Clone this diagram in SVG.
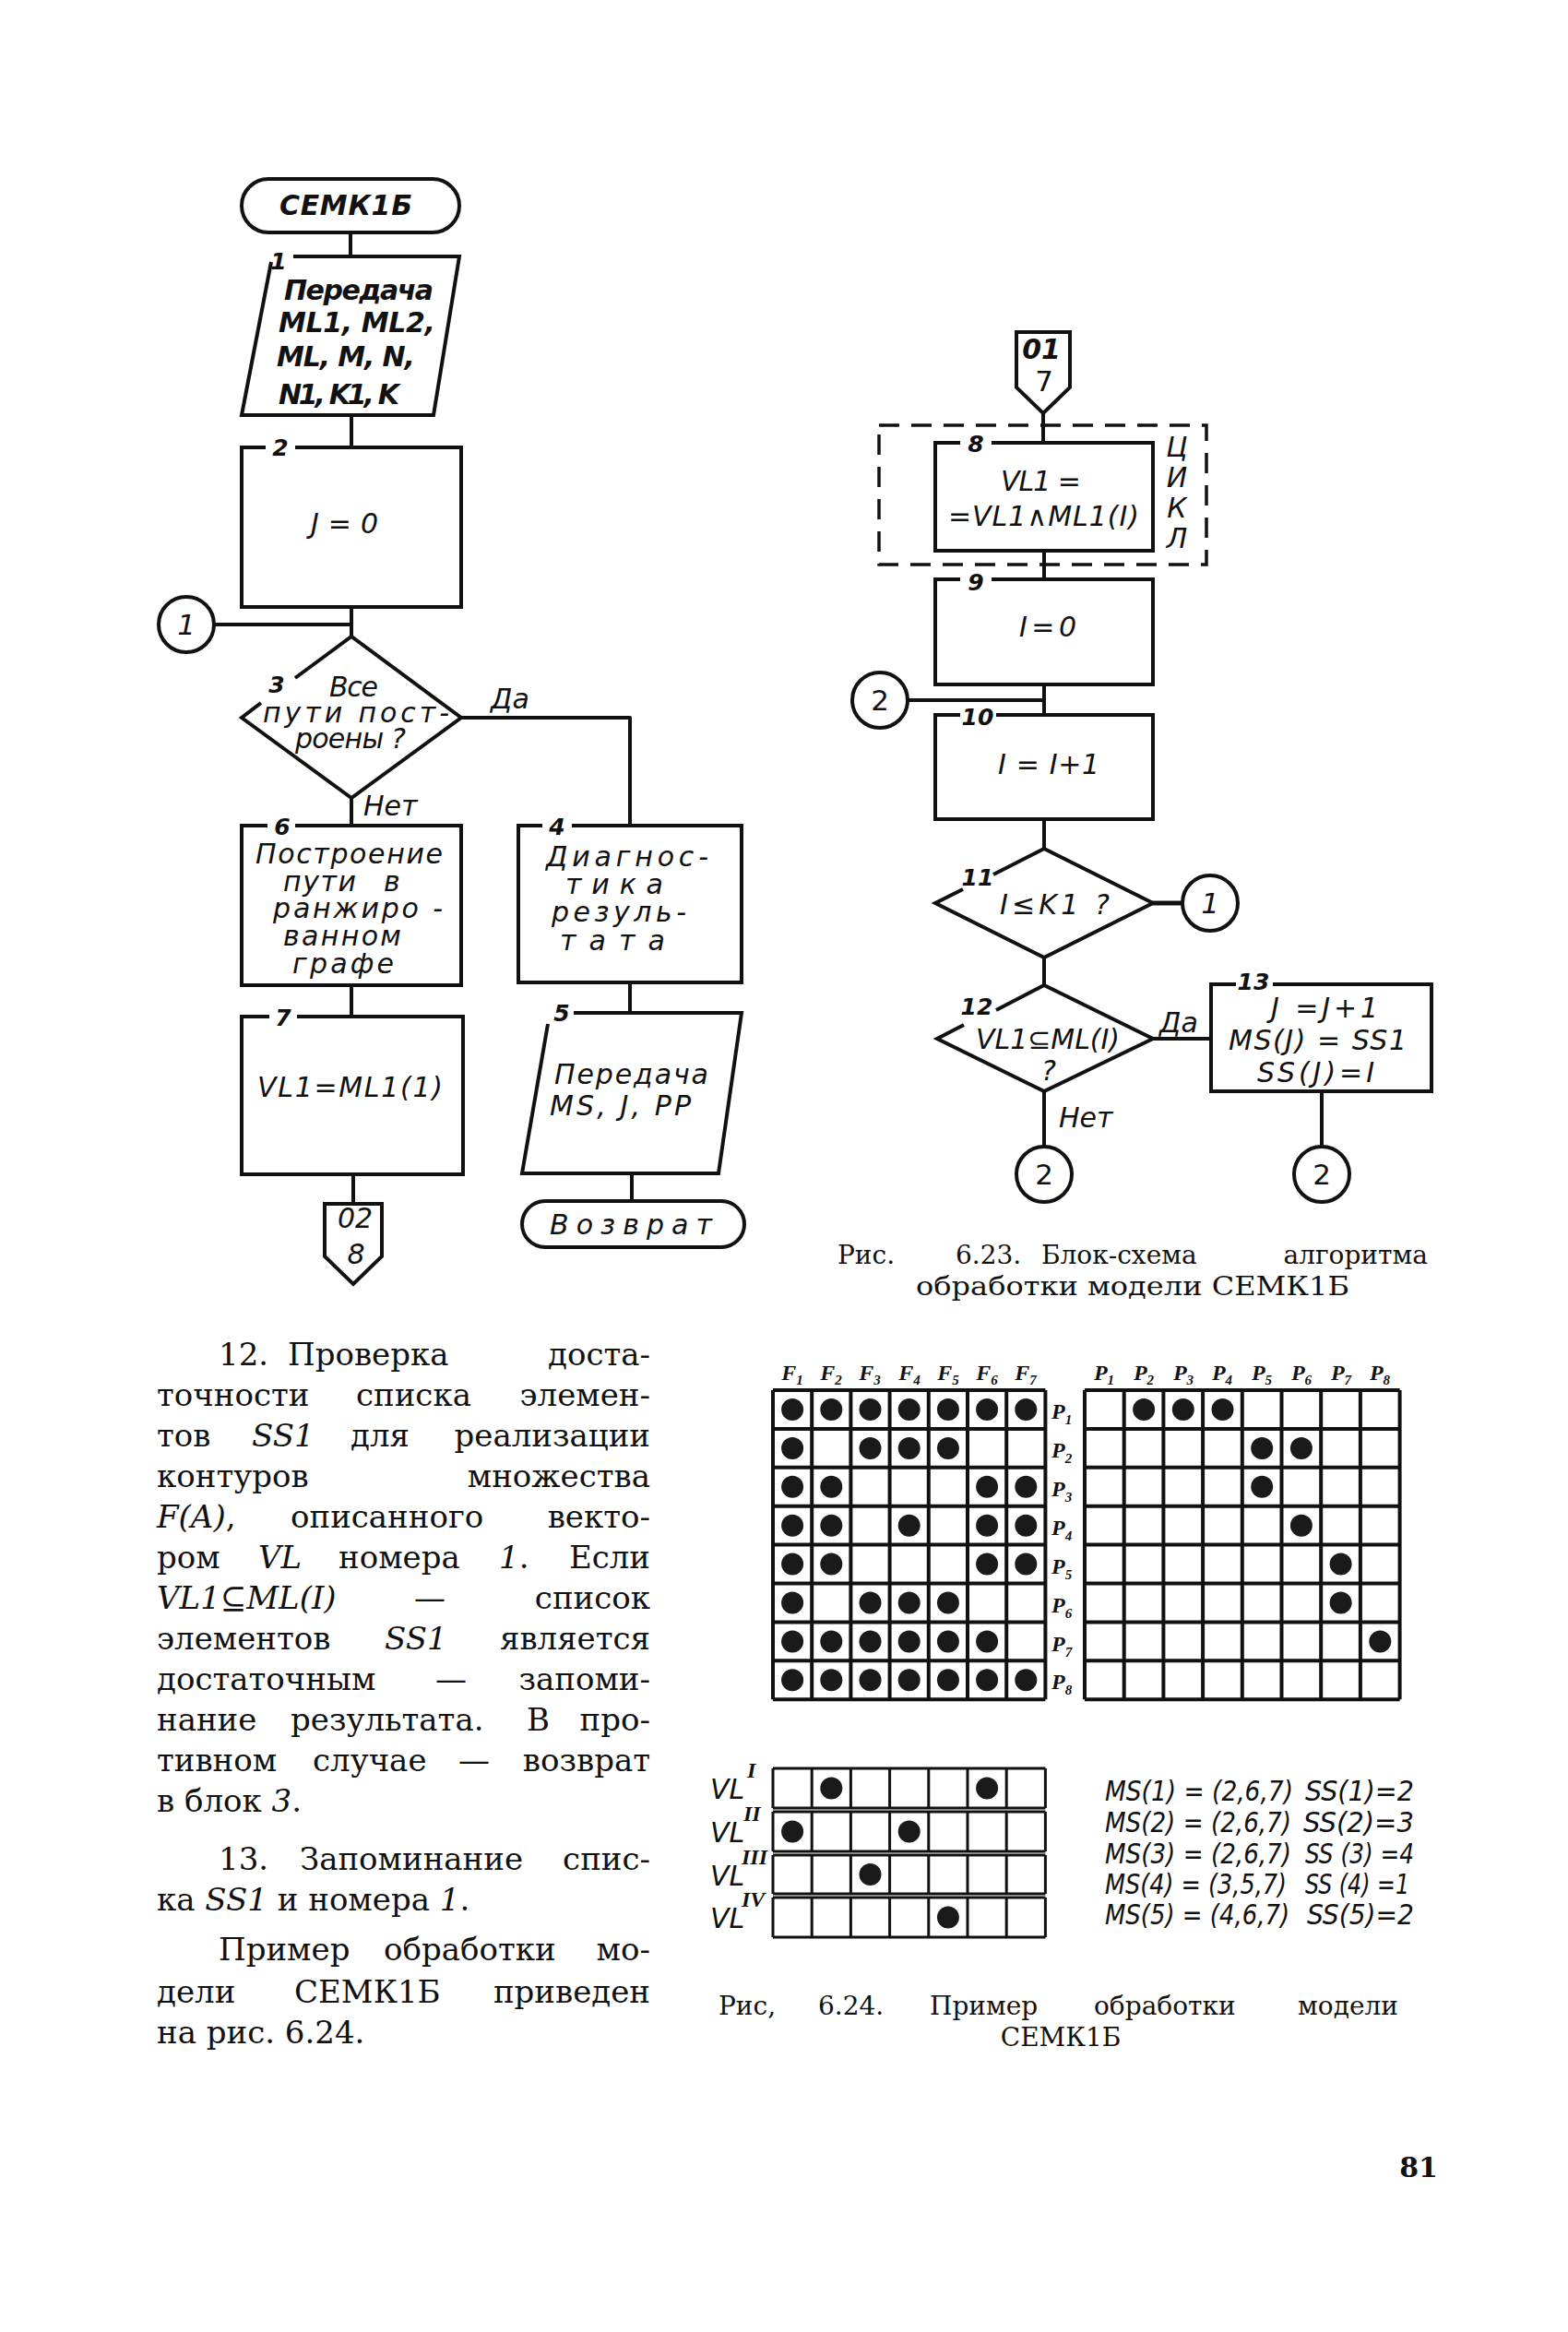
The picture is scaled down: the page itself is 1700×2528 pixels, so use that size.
<svg xmlns="http://www.w3.org/2000/svg" width="1700" height="2528" viewBox="0 0 1700 2528">
<defs>
<style>
.ln{fill:none;stroke:#111;stroke-width:4;stroke-linejoin:round;stroke-linecap:round}
.bx{fill:#fff;stroke:#111;stroke-width:4;stroke-linejoin:miter}
.dash{fill:none;stroke:#111;stroke-width:3.5;stroke-dasharray:22 13}
.hw{font-family:"DejaVu Sans","Liberation Sans",sans-serif;font-style:italic;fill:#111;font-size:30px}
.hb{font-weight:bold}
.lbl{font-family:"DejaVu Sans","Liberation Sans",sans-serif;font-style:italic;font-weight:bold;font-size:25px;fill:#111;text-anchor:middle}
.cn{font-family:"DejaVu Sans","Liberation Sans",sans-serif;font-size:31px;fill:#111;text-anchor:middle}
.body{font-family:"DejaVu Serif","Liberation Serif",serif;font-size:34px;fill:#111}
.cap{font-family:"DejaVu Serif","Liberation Serif",serif;font-size:28px;fill:#111}
.it{font-style:italic}
.grid{fill:none;stroke:#111;stroke-width:4}
.gridt{fill:none;stroke:#111;stroke-width:3}
.gl{font-family:"Liberation Serif","DejaVu Serif",serif;font-style:italic;font-weight:bold;font-size:24px;fill:#111}
.mid{text-anchor:middle}
.end{text-anchor:end}
</style>
<circle id="dot" r="12" fill="#1a1a1a"/>
</defs>
<rect width="1700" height="2528" fill="#fff"/>

<!-- ===== connectors ===== -->
<g id="connectors" class="ln">
<path d="M380,252V278"/>
<path d="M381,450V485"/>
<path d="M381,658V690"/>
<path d="M232,677H381"/>
<path d="M500,778H683V895"/>
<path d="M381,865V895"/>
<path d="M381,1068V1102"/>
<path d="M383,1273V1305"/>
<path d="M683,1065V1098"/>
<path d="M685,1272V1302"/>
<path d="M1131,448V480"/>
<path d="M1132,597V628"/>
<path d="M1132,742V775"/>
<path d="M984,759H1132"/>
<path d="M1132,888V920"/>
<path d="M1250,979H1282" style="stroke-width:5"/>
<path d="M1132,1038V1068"/>
<path d="M1250,1126H1313"/>
<path d="M1132,1183V1243"/>
<path d="M1433,1183V1243"/>
</g>

<!-- ===== left flowchart ===== -->
<g id="n-start">
<rect class="bx" x="262" y="194" width="236" height="58" rx="29"/>
<text class="hw hb" x="303" y="233" textLength="144" lengthAdjust="spacing">СЕМК1Б</text>
</g>
<g id="n1">
<path class="bx" d="M318,278H498L470,450H262L294,284"/>
<text class="lbl" x="302" y="292">1</text>
<text class="hw hb" x="308" y="325" font-size="29" textLength="162" lengthAdjust="spacing">Передача</text>
<text class="hw hb" x="302" y="360" font-size="29" textLength="170" lengthAdjust="spacing">ML1, ML2,</text>
<text class="hw hb" x="300" y="397" font-size="29" textLength="150" lengthAdjust="spacing">ML, M, N,</text>
<text class="hw hb" x="302" y="438" font-size="29" textLength="131" lengthAdjust="spacing">N1, K1, K</text>
</g>
<g id="n2">
<path class="bx" d="M320,485H500V658H262V485H288"/>
<text class="lbl" x="304" y="494">2</text>
<text class="hw" x="337" y="578" textLength="73" lengthAdjust="spacing">J = 0</text>
</g>
<g id="c1-left">
<circle class="bx" cx="202" cy="677" r="30"/>
<text class="cn it" x="202" y="688">1</text>
</g>
<g id="n3">
<path class="bx" d="M320,735L381,690L500,778L381,865L262,778L283,762"/>
<text class="lbl" x="300" y="751">3</text>
<text class="hw" x="357" y="755" font-size="23" textLength="53" lengthAdjust="spacing">Все</text>
<text class="hw" x="285" y="783" font-size="23" textLength="202" lengthAdjust="spacing">пути пост-</text>
<text class="hw" x="320" y="811" font-size="23" textLength="120" lengthAdjust="spacing">роены ?</text>
<text class="hw" x="532" y="768" font-size="28">Да</text>
<text class="hw" x="394" y="884" font-size="28">Нет</text>
</g>
<g id="n6">
<path class="bx" d="M320,895H500V1068H262V895H290"/>
<text class="lbl" x="306" y="905">6</text>
<text class="hw" x="277" y="936" font-size="25" textLength="203" lengthAdjust="spacing">Построение</text>
<text class="hw" x="307" y="966" font-size="25" textLength="79" lengthAdjust="spacing">пути</text>
<text class="hw" x="416" y="966" font-size="25">в</text>
<text class="hw" x="296" y="995" font-size="25" textLength="184" lengthAdjust="spacing">ранжиро -</text>
<text class="hw" x="307" y="1025" font-size="25" textLength="128" lengthAdjust="spacing">ванном</text>
<text class="hw" x="317" y="1055" font-size="25" textLength="110" lengthAdjust="spacing">графе</text>
</g>
<g id="n4">
<path class="bx" d="M620,895H804V1065H562V895H588"/>
<text class="lbl" x="604" y="905">4</text>
<text class="hw" x="592" y="939" font-size="26" textLength="176" lengthAdjust="spacing">Диагнос-</text>
<text class="hw" x="613" y="969" font-size="26" textLength="106" lengthAdjust="spacing">тика</text>
<text class="hw" x="598" y="999" font-size="26" textLength="146" lengthAdjust="spacing">резуль-</text>
<text class="hw" x="607" y="1030" font-size="26" textLength="114" lengthAdjust="spacing">тата</text>
</g>
<g id="n7">
<path class="bx" d="M322,1102H502V1273H262V1102H292"/>
<text class="lbl" x="307" y="1112">7</text>
<text class="hw" x="279" y="1189" textLength="201" lengthAdjust="spacing">VL1=ML1(1)</text>
</g>
<g id="off-02-8">
<path class="bx" d="M352,1305H414V1362L383,1392L352,1362Z"/>
<text class="hw mid" x="385" y="1331" font-size="23">02</text>
<text class="hw mid" x="386" y="1370" font-size="26">8</text>
</g>
<g id="n5">
<path class="bx" d="M622,1098H804L779,1272H566L594,1110"/>
<text class="lbl" x="609" y="1107">5</text>
<text class="hw" x="601" y="1175" font-size="28" textLength="167" lengthAdjust="spacing">Передача</text>
<text class="hw" x="596" y="1209" font-size="28" textLength="153" lengthAdjust="spacing">MS, J, PP</text>
</g>
<g id="n-return">
<rect class="bx" x="566" y="1302" width="241" height="50" rx="25"/>
<text class="hw" x="596" y="1338" textLength="176" lengthAdjust="spacing">Возврат</text>
</g>

<!-- ===== right flowchart ===== -->
<g id="off-01-7">
<path class="bx" d="M1102,360H1160V420L1131,448L1102,420Z"/>
<text class="hw hb mid" x="1129" y="389" font-size="24">01</text>
<text class="cn" x="1132" y="424" font-size="27">7</text>
</g>
<g id="loop">
<rect class="dash" x="953" y="461" width="355" height="151"/>
<text class="hw mid" x="1276" y="495" font-size="27">Ц</text>
<text class="hw mid" x="1276" y="528" font-size="27">И</text>
<text class="hw mid" x="1276" y="561" font-size="27">К</text>
<text class="hw mid" x="1276" y="594" font-size="27">Л</text>
</g>
<g id="n8">
<path class="bx" d="M1075,480H1250V597H1014V480H1041"/>
<text class="lbl" x="1058" y="490">8</text>
<text class="hw" x="1085" y="532" textLength="87" lengthAdjust="spacing">VL1 =</text>
<text class="hw" x="1028" y="570" textLength="207" lengthAdjust="spacing">=VL1∧ML1(I)</text>
</g>
<g id="n9">
<path class="bx" d="M1075,628H1250V742H1014V628H1041"/>
<text class="lbl" x="1058" y="640">9</text>
<text class="hw" x="1105" y="690" textLength="62" lengthAdjust="spacing">I = 0</text>
</g>
<g id="c2-left">
<circle class="bx" cx="954" cy="759" r="30"/>
<text class="cn" x="954" y="770">2</text>
</g>
<g id="n10">
<path class="bx" d="M1080,775H1250V888H1014V775H1041"/>
<text class="lbl" x="1060" y="786">10</text>
<text class="hw" x="1082" y="839" textLength="110" lengthAdjust="spacing">I = I+1</text>
</g>
<g id="n11">
<path class="bx" d="M1077,948L1132,920L1250,979L1132,1038L1014,979L1044,964"/>
<text class="lbl" x="1060" y="960">11</text>
<text class="hw" x="1084" y="991" textLength="119" lengthAdjust="spacing">I≤K1 ?</text>
</g>
<g id="c1-right">
<circle class="bx" cx="1312" cy="979" r="30"/>
<text class="cn it" x="1312" y="990">1</text>
</g>
<g id="n12">
<path class="bx" d="M1080,1095L1132,1068L1250,1126L1132,1183L1016,1126L1045,1111"/>
<text class="lbl" x="1059" y="1100">12</text>
<text class="hw" x="1058" y="1137" font-size="27" textLength="156" lengthAdjust="spacing">VL1⊆ML(I)</text>
<text class="hw mid" x="1137" y="1171" font-size="27">?</text>
<text class="hw" x="1257" y="1119" font-size="28">Да</text>
<text class="hw" x="1148" y="1222" font-size="28">Нет</text>
</g>
<g id="n13">
<path class="bx" d="M1380,1067H1552V1183H1313V1067H1340"/>
<text class="lbl" x="1359" y="1073">13</text>
<text class="hw" x="1378" y="1103" font-size="28" textLength="116" lengthAdjust="spacing">J =J+1</text>
<text class="hw" x="1332" y="1138" font-size="28" textLength="193" lengthAdjust="spacing">MS(J) = SS1</text>
<text class="hw" x="1363" y="1173" font-size="28" textLength="127" lengthAdjust="spacing">SS(J)=I</text>
</g>
<g id="c2-bottom">
<circle class="bx" cx="1132" cy="1273" r="30"/>
<text class="cn" x="1132" y="1284">2</text>
</g>
<g id="c2-bottom-right">
<circle class="bx" cx="1433" cy="1273" r="30"/>
<text class="cn" x="1433" y="1284">2</text>
</g>

<!-- ===== captions ===== -->
<g id="caption-6-23" class="cap">
<text y="1370"><tspan x="908">Рис.</tspan><tspan x="1036">6.23.</tspan><tspan x="1129">Блок-схема</tspan></text>
<text class="end" x="1548" y="1370">алгоритма</text>
<text class="mid" x="1228" y="1404" textLength="470" lengthAdjust="spacingAndGlyphs">обработки модели СЕМК1Б</text>
</g>

<!-- ===== body text ===== -->
<g id="body-text" class="body">
<text y="1480"><tspan x="237">12.</tspan><tspan x="312">Проверка</tspan></text>
<text class="end" x="705" y="1480">доста-</text>
<text y="1524"><tspan x="170">точности</tspan><tspan x="386">списка</tspan></text>
<text class="end" x="705" y="1524">элемен-</text>
<text y="1568"><tspan x="170">тов</tspan><tspan x="273" class="it">SS1</tspan><tspan x="380">для</tspan></text>
<text class="end" x="705" y="1568">реализации</text>
<text x="170" y="1612">контуров</text>
<text class="end" x="705" y="1612">множества</text>
<text y="1656"><tspan x="170" class="it">F(A)</tspan><tspan>,</tspan><tspan x="315">описанного</tspan></text>
<text class="end" x="705" y="1656">векто-</text>
<text y="1700"><tspan x="170">ром</tspan><tspan x="280" class="it">VL</tspan><tspan x="367">номера</tspan><tspan x="541" class="it">1</tspan><tspan>.</tspan></text>
<text class="end" x="705" y="1700">Если</text>
<text y="1744"><tspan x="170" class="it">VL1⊆ML(I)</tspan><tspan x="449">—</tspan></text>
<text class="end" x="705" y="1744">список</text>
<text y="1788"><tspan x="170">элементов</tspan><tspan x="417" class="it">SS1</tspan></text>
<text class="end" x="705" y="1788">является</text>
<text y="1832"><tspan x="170">достаточным</tspan><tspan x="472">—</tspan></text>
<text class="end" x="705" y="1832">запоми-</text>
<text y="1876"><tspan x="170">нание</tspan><tspan x="315">результата.</tspan><tspan x="571">В</tspan></text>
<text class="end" x="705" y="1876">про-</text>
<text y="1920"><tspan x="170">тивном</tspan><tspan x="339">случае</tspan><tspan x="497">—</tspan></text>
<text class="end" x="705" y="1920">возврат</text>
<text x="170" y="1964">в блок <tspan class="it">3</tspan>.</text>
<text y="2027"><tspan x="237">13.</tspan><tspan x="325">Запоминание</tspan></text>
<text class="end" x="705" y="2027">спис-</text>
<text x="170" y="2071">ка <tspan class="it">SS1</tspan> и номера <tspan class="it">1</tspan>.</text>
<text y="2125"><tspan x="237">Пример</tspan><tspan x="416">обработки</tspan></text>
<text class="end" x="705" y="2125">мо-</text>
<text y="2171"><tspan x="170">дели</tspan><tspan x="319">СЕМК1Б</tspan></text>
<text class="end" x="705" y="2171">приведен</text>
<text x="170" y="2215">на рис. 6.24.</text>
</g>

<!-- ===== grids (fig 6.24) ===== -->
<g id="grid-left">
<path class="grid" d="M838,1507V1842.2M880.2,1507V1842.2M922.4,1507V1842.2M964.6,1507V1842.2M1006.8,1507V1842.2M1049,1507V1842.2M1091.2,1507V1842.2M1133.4,1507V1842.2M838,1507H1133.4M838,1548.9H1133.4M838,1590.8H1133.4M838,1632.7H1133.4M838,1674.6H1133.4M838,1716.5H1133.4M838,1758.4H1133.4M838,1800.3H1133.4M838,1842.2H1133.4"/>
<g class="gl mid">
<text x="859" y="1496">F<tspan font-size="15" dy="5">1</tspan></text>
<text x="901" y="1496">F<tspan font-size="15" dy="5">2</tspan></text>
<text x="943" y="1496">F<tspan font-size="15" dy="5">3</tspan></text>
<text x="986" y="1496">F<tspan font-size="15" dy="5">4</tspan></text>
<text x="1028" y="1496">F<tspan font-size="15" dy="5">5</tspan></text>
<text x="1070" y="1496">F<tspan font-size="15" dy="5">6</tspan></text>
<text x="1112" y="1496">F<tspan font-size="15" dy="5">7</tspan></text>
</g>
<g class="gl">
<text x="1140" y="1538">P<tspan font-size="15" dy="6">1</tspan></text>
<text x="1140" y="1580">P<tspan font-size="15" dy="6">2</tspan></text>
<text x="1140" y="1622">P<tspan font-size="15" dy="6">3</tspan></text>
<text x="1140" y="1664">P<tspan font-size="15" dy="6">4</tspan></text>
<text x="1140" y="1706">P<tspan font-size="15" dy="6">5</tspan></text>
<text x="1140" y="1748">P<tspan font-size="15" dy="6">6</tspan></text>
<text x="1140" y="1790">P<tspan font-size="15" dy="6">7</tspan></text>
<text x="1140" y="1831">P<tspan font-size="15" dy="6">8</tspan></text>
</g>
<use href="#dot" x="859.1" y="1528"/><use href="#dot" x="901.3" y="1528"/><use href="#dot" x="943.5" y="1528"/><use href="#dot" x="985.7" y="1528"/><use href="#dot" x="1027.9" y="1528"/><use href="#dot" x="1070.1" y="1528"/><use href="#dot" x="1112.3" y="1528"/>
<use href="#dot" x="859.1" y="1569.9"/><use href="#dot" x="943.5" y="1569.9"/><use href="#dot" x="985.7" y="1569.9"/><use href="#dot" x="1027.9" y="1569.9"/>
<use href="#dot" x="859.1" y="1611.8"/><use href="#dot" x="901.3" y="1611.8"/><use href="#dot" x="1070.1" y="1611.8"/><use href="#dot" x="1112.3" y="1611.8"/>
<use href="#dot" x="859.1" y="1653.7"/><use href="#dot" x="901.3" y="1653.7"/><use href="#dot" x="985.7" y="1653.7"/><use href="#dot" x="1070.1" y="1653.7"/><use href="#dot" x="1112.3" y="1653.7"/>
<use href="#dot" x="859.1" y="1695.6"/><use href="#dot" x="901.3" y="1695.6"/><use href="#dot" x="1070.1" y="1695.6"/><use href="#dot" x="1112.3" y="1695.6"/>
<use href="#dot" x="859.1" y="1737.5"/><use href="#dot" x="943.5" y="1737.5"/><use href="#dot" x="985.7" y="1737.5"/><use href="#dot" x="1027.9" y="1737.5"/>
<use href="#dot" x="859.1" y="1779.4"/><use href="#dot" x="901.3" y="1779.4"/><use href="#dot" x="943.5" y="1779.4"/><use href="#dot" x="985.7" y="1779.4"/><use href="#dot" x="1027.9" y="1779.4"/><use href="#dot" x="1070.1" y="1779.4"/>
<use href="#dot" x="859.1" y="1821.3"/><use href="#dot" x="901.3" y="1821.3"/><use href="#dot" x="943.5" y="1821.3"/><use href="#dot" x="985.7" y="1821.3"/><use href="#dot" x="1027.9" y="1821.3"/><use href="#dot" x="1070.1" y="1821.3"/><use href="#dot" x="1112.3" y="1821.3"/>
</g>

<g id="grid-right">
<path class="grid" d="M1176,1507V1842.2M1218.7,1507V1842.2M1261.4,1507V1842.2M1304.1,1507V1842.2M1346.8,1507V1842.2M1389.5,1507V1842.2M1432.2,1507V1842.2M1474.9,1507V1842.2M1517.6,1507V1842.2M1176,1507H1517.6M1176,1548.9H1517.6M1176,1590.8H1517.6M1176,1632.7H1517.6M1176,1674.6H1517.6M1176,1716.5H1517.6M1176,1758.4H1517.6M1176,1800.3H1517.6M1176,1842.2H1517.6"/>
<g class="gl mid">
<text x="1197" y="1496">P<tspan font-size="15" dy="5">1</tspan></text>
<text x="1240" y="1496">P<tspan font-size="15" dy="5">2</tspan></text>
<text x="1283" y="1496">P<tspan font-size="15" dy="5">3</tspan></text>
<text x="1325" y="1496">P<tspan font-size="15" dy="5">4</tspan></text>
<text x="1368" y="1496">P<tspan font-size="15" dy="5">5</tspan></text>
<text x="1411" y="1496">P<tspan font-size="15" dy="5">6</tspan></text>
<text x="1454" y="1496">P<tspan font-size="15" dy="5">7</tspan></text>
<text x="1496" y="1496">P<tspan font-size="15" dy="5">8</tspan></text>
</g>
<use href="#dot" x="1240.1" y="1528"/><use href="#dot" x="1282.8" y="1528"/><use href="#dot" x="1325.5" y="1528"/>
<use href="#dot" x="1368.2" y="1569.9"/><use href="#dot" x="1410.9" y="1569.9"/>
<use href="#dot" x="1368.2" y="1611.8"/>
<use href="#dot" x="1410.9" y="1653.7"/>
<use href="#dot" x="1453.6" y="1695.6"/>
<use href="#dot" x="1453.6" y="1737.5"/>
<use href="#dot" x="1496.3" y="1779.4"/>
</g>

<g id="vl-table">
<path class="gridt" d="M838,1917H1133.4M838,1960H1133.4M838,1964H1133.4M838,2007H1133.4M838,2011H1133.4M838,2053H1133.4M838,2057H1133.4M838,2100H1133.4
M838,1917V1960M838,1964V2007M838,2011V2053M838,2057V2100
M880.2,1917V1960M880.2,1964V2007M880.2,2011V2053M880.2,2057V2100
M922.4,1917V1960M922.4,1964V2007M922.4,2011V2053M922.4,2057V2100
M964.6,1917V1960M964.6,1964V2007M964.6,2011V2053M964.6,2057V2100
M1006.8,1917V1960M1006.8,1964V2007M1006.8,2011V2053M1006.8,2057V2100
M1049,1917V1960M1049,1964V2007M1049,2011V2053M1049,2057V2100
M1091.2,1917V1960M1091.2,1964V2007M1091.2,2011V2053M1091.2,2057V2100
M1133.4,1917V1960M1133.4,1964V2007M1133.4,2011V2053M1133.4,2057V2100"/>
<use href="#dot" x="901.3" y="1938.5"/><use href="#dot" x="1070.1" y="1938.5"/>
<use href="#dot" x="859.1" y="1985.5"/><use href="#dot" x="985.7" y="1985.5"/>
<use href="#dot" x="943.5" y="2032"/>
<use href="#dot" x="1027.9" y="2078.5"/>
<g class="hw" font-size="25">
<text x="770" y="1950">VL</text>
<text x="770" y="1997">VL</text>
<text x="770" y="2044">VL</text>
<text x="770" y="2090">VL</text>
</g>
<g class="gl" font-size="16">
<text x="810" y="1927">I</text>
<text x="806" y="1974">II</text>
<text x="804" y="2021">III</text>
<text x="804" y="2067">IV</text>
</g>
</g>

<g id="ms-list" class="hw" font-size="26">
<text x="1198" y="1952" textLength="204" lengthAdjust="spacingAndGlyphs">MS(1) = (2,6,7)</text>
<text x="1415" y="1952" textLength="118" lengthAdjust="spacingAndGlyphs">SS(1)=2</text>
<text x="1198" y="1986" textLength="202" lengthAdjust="spacingAndGlyphs">MS(2) = (2,6,7)</text>
<text x="1413" y="1986" textLength="120" lengthAdjust="spacingAndGlyphs">SS(2)=3</text>
<text x="1198" y="2020" textLength="202" lengthAdjust="spacingAndGlyphs">MS(3) = (2,6,7)</text>
<text x="1415" y="2020" textLength="118" lengthAdjust="spacingAndGlyphs">SS (3) =4</text>
<text x="1198" y="2053" textLength="197" lengthAdjust="spacingAndGlyphs">MS(4) = (3,5,7)</text>
<text x="1415" y="2053" textLength="113" lengthAdjust="spacingAndGlyphs">SS (4) =1</text>
<text x="1198" y="2086" textLength="200" lengthAdjust="spacingAndGlyphs">MS(5) = (4,6,7)</text>
<text x="1417" y="2086" textLength="116" lengthAdjust="spacingAndGlyphs">SS(5)=2</text>
</g>

<g id="caption-6-24" class="cap">
<text y="2184"><tspan x="779">Рис,</tspan><tspan x="887">6.24.</tspan><tspan x="1008">Пример</tspan><tspan x="1186">обработки</tspan></text>
<text class="end" x="1516" y="2184">модели</text>
<text class="mid" x="1150" y="2218">СЕМК1Б</text>
</g>

<text id="page-number" x="1538" y="2360" text-anchor="middle" font-family="DejaVu Serif, serif" font-weight="bold" font-size="30" fill="#111">81</text>
</svg>
